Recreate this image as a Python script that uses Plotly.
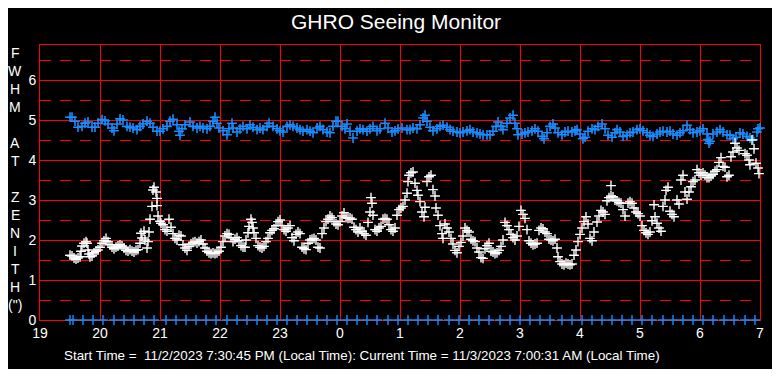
import plotly.graph_objects as go

# minutes after 19:00, FWHM value (arcsec) - white series
WHITE = [(30,1.62),(32,1.60),(34,1.55),(36,1.52),(38,1.55),(40,1.58),(41,1.72),(42,1.85),(44,1.92),(46,1.96),(47,1.92),(48,1.75),(49,1.65),(50,1.58),(52,1.60),(54,1.68),(56,1.72),(58,1.75),(60,1.82),(62,1.92),(64,1.98),(66,2.04),(68,1.96),(70,1.88),(72,1.82),(74,1.78),(76,1.82),(78,1.85),(80,1.88),(82,1.85),(84,1.80),(86,1.74),(88,1.72),(90,1.76),(92,1.72),(94,1.70),(96,1.74),(98,1.76),(100,1.92),(101,2.17),(102,2.05),(104,2.22),(105,2.00),(107,1.80),(108,1.96),(109,2.20),(110,2.52),(112,2.84),(113,3.25),(114,3.32),(116,3.20),(117,3.04),(117,2.86),(118,2.60),(120,2.47),(121,2.42),(123,2.38),(125,2.26),(127,2.22),(129,2.52),(131,2.32),(133,2.16),(135,2.04),(137,2.00),(139,2.12),(141,2.10),(143,1.88),(145,1.80),(147,1.74),(149,1.84),(151,1.90),(153,1.94),(155,1.96),(157,1.92),(159,1.96),(161,2.00),(163,1.90),(165,1.80),(167,1.72),(169,1.68),(171,1.66),(173,1.68),(175,1.66),(177,1.68),(179,1.72),(181,1.82),(183,1.96),(185,2.10),(187,2.16),(189,2.14),(191,2.06),(193,1.96),(195,2.02),(197,2.06),(199,1.98),(201,1.86),(203,1.82),(205,1.82),(206,2.00),(208,2.18),(209,2.34),(211,2.52),(212,2.44),(213,2.30),(214,2.18),(216,2.04),(218,1.86),(220,1.82),(222,1.80),(224,1.84),(226,1.96),(228,2.04),(230,2.18),(232,2.24),(234,2.28),(236,2.36),(238,2.46),(240,2.50),(242,2.36),(244,2.26),(246,2.22),(248,2.30),(250,2.36),(252,2.06),(254,1.98),(256,2.14),(258,2.20),(260,2.16),(262,1.82),(264,1.78),(266,1.76),(268,1.92),(270,2.00),(272,2.02),(274,2.04),(276,2.00),(278,1.82),(280,1.80),(282,2.16),(284,2.30),(286,2.46),(288,2.52),(290,2.60),(292,2.56),(294,2.46),(296,2.40),(298,2.38),(300,2.46),(302,2.60),(304,2.68),(306,2.56),(308,2.54),(310,2.55),(312,2.52),(314,2.32),(316,2.26),(318,2.20),(320,2.30),(322,2.22),(324,2.16),(326,2.12),(328,2.44),(330,2.70),(331,3.06),(332,2.92),(333,2.62),(335,2.26),(337,2.22),(339,2.30),(341,2.34),(343,2.52),(345,2.54),(347,2.52),(349,2.38),(351,2.26),(353,2.22),(355,2.30),(357,2.62),(359,2.76),(361,2.80),(363,2.84),(365,3.00),(367,3.17),(368,3.46),(369,3.62),(371,3.68),(373,3.70),(375,3.42),(377,3.24),(378,3.12),(380,2.96),(382,2.70),(384,2.58),(385,2.82),(387,3.46),(389,3.58),(391,3.62),(393,3.26),(395,3.10),(396,2.80),(398,2.62),(400,2.36),(402,2.16),(403,2.04),(405,2.40),(407,2.30),(409,2.20),(411,2.04),(413,1.90),(415,1.74),(417,1.68),(419,1.84),(421,1.94),(423,2.10),(425,2.30),(427,2.24),(429,2.20),(431,2.02),(433,1.98),(435,1.96),(437,1.80),(439,1.70),(441,1.56),(443,1.54),(445,1.78),(447,1.86),(449,1.92),(451,1.72),(453,1.70),(455,1.66),(457,1.68),(459,1.74),(461,1.84),(463,2.00),(465,2.44),(467,2.36),(469,2.26),(471,2.14),(473,2.06),(475,2.00),(477,2.10),(479,2.34),(481,2.74),(483,2.64),(485,2.54),(487,2.26),(489,1.98),(491,1.92),(493,1.88),(495,1.90),(497,1.92),(499,2.24),(501,2.30),(503,2.28),(505,2.20),(507,2.16),(509,2.02),(511,2.00),(513,1.98),(515,2.02),(517,1.80),(518,1.58),(520,1.46),(522,1.40),(524,1.38),(526,1.42),(528,1.40),(530,1.38),(532,1.40),(534,1.62),(536,1.75),(538,1.96),(540,2.14),(542,2.30),(544,2.46),(546,2.58),(548,2.40),(550,2.04),(552,1.98),(554,2.20),(557,2.45),(559,2.60),(561,2.74),(563,2.70),(565,2.64),(567,2.98),(569,3.06),(571,3.10),(571,3.36),(573,3.08),(575,3.00),(577,2.98),(579,2.94),(581,2.92),(583,2.76),(585,2.60),(588,2.92),(590,2.96),(592,2.92),(594,2.80),(596,2.70),(598,2.66),(600,2.60),(602,2.36),(604,2.24),(606,2.18),(608,2.14),(610,2.20),(612,2.48),(614,2.88),(615,2.58),(617,2.42),(619,2.30),(621,2.22),(623,2.84),(625,3.00),(626,3.24),(628,3.32),(630,2.72),(632,2.64),(634,2.58),(637,3.00),(639,2.90),(641,3.50),(643,3.62),(645,3.20),(647,3.02),(649,3.20),(651,3.33),(653,3.46),(655,3.50),(657,3.76),(659,3.68),(661,3.62),(663,3.68),(665,3.62),(667,3.56),(669,3.56),(671,3.60),(673,3.64),(675,3.72),(677,3.76),(679,3.94),(681,4.06),(683,3.84),(685,3.82),(687,3.58),(689,3.62),(691,4.08),(693,4.20),(695,4.42),(697,4.30),(699,4.24),(701,6.95),(705,4.16),(707,4.12),(709,4.00),(710,3.88),(712,4.50),(714,4.28),(716,3.92),(718,3.80),(719,3.66)]

# minutes after 19:00, value - blue series
BLUE = [(30,5.07),(32,5.07),(35,4.97),(38,4.82),(42,4.84),(45,4.92),(48,4.95),(52,4.82),(55,4.82),(58,4.92),(62,5.01),(65,4.98),(68,4.90),(72,4.80),(74,4.73),(77,4.90),(80,5.03),(83,5.00),(87,4.84),(90,4.82),(93,4.80),(97,4.76),(100,4.84),(103,4.90),(107,4.97),(110,4.92),(113,4.82),(117,4.72),(120,4.72),(123,4.78),(127,4.84),(130,4.97),(133,5.02),(137,4.88),(139,4.72),(140,4.62),(142,4.78),(145,4.88),(150,4.95),(153,4.84),(157,4.80),(160,4.84),(163,4.80),(167,4.78),(170,4.84),(173,4.97),(175,5.07),(177,4.92),(179,4.80),(183,4.73),(187,4.63),(189,4.78),(192,4.92),(193,4.80),(197,4.70),(200,4.78),(203,4.84),(207,4.78),(210,4.88),(213,4.82),(217,4.76),(220,4.80),(223,4.76),(227,4.84),(229,4.92),(233,4.84),(237,4.78),(240,4.73),(243,4.70),(247,4.84),(250,4.88),(253,4.84),(257,4.80),(260,4.76),(263,4.72),(267,4.76),(270,4.72),(273,4.68),(277,4.80),(280,4.84),(283,4.76),(287,4.70),(290,4.68),(293,4.84),(296,4.97),(298,4.97),(302,4.84),(305,4.78),(307,4.90),(310,4.72),(313,4.55),(317,4.72),(320,4.78),(323,4.76),(327,4.72),(330,4.78),(333,4.84),(337,4.73),(340,4.78),(345,4.92),(348,4.80),(352,4.70),(355,4.73),(358,4.78),(362,4.80),(367,4.76),(370,4.76),(373,4.80),(377,4.78),(380,4.88),(383,5.05),(385,5.12),(387,4.97),(390,4.82),(393,4.73),(397,4.78),(400,4.84),(403,4.87),(407,4.82),(410,4.76),(413,4.72),(417,4.70),(420,4.68),(423,4.70),(427,4.73),(430,4.76),(433,4.70),(437,4.68),(440,4.65),(443,4.63),(447,4.63),(450,4.63),(453,4.72),(456,4.84),(458,4.95),(461,4.84),(463,4.76),(467,4.92),(470,5.05),(473,5.12),(475,4.92),(477,4.78),(478,4.63),(482,4.65),(485,4.68),(488,4.70),(492,4.73),(495,4.78),(498,4.72),(502,4.59),(504,4.53),(507,4.68),(510,4.84),(513,4.90),(515,4.80),(518,4.68),(522,4.63),(525,4.70),(528,4.72),(532,4.70),(535,4.73),(537,4.76),(540,4.65),(543,4.53),(545,4.57),(548,4.72),(552,4.78),(555,4.76),(558,4.84),(562,4.90),(565,4.78),(568,4.62),(572,4.57),(575,4.68),(577,4.76),(580,4.70),(583,4.59),(587,4.62),(590,4.68),(593,4.70),(597,4.76),(600,4.78),(603,4.73),(607,4.68),(610,4.62),(613,4.59),(617,4.65),(620,4.70),(623,4.72),(627,4.70),(630,4.72),(633,4.65),(637,4.62),(640,4.68),(643,4.73),(647,4.87),(650,4.76),(653,4.68),(657,4.70),(660,4.73),(663,4.78),(667,4.65),(668,4.51),(669,4.42),(670,4.47),(673,4.65),(677,4.70),(680,4.76),(683,4.70),(687,4.63),(690,4.62),(693,4.53),(696,4.57),(700,4.68),(703,4.65),(707,4.59),(710,4.55),(713,4.51),(717,4.70),(718,4.78),(720,4.80)]

# baseline markers (value 0), minutes after 19:00
ZERO_MIN = [30,33,43,53,63,74,84,94,104,114,126,136,146,156,166,176,187,197,207,217,227,237,247,257,267,277,287,297,307,317,327,337,348,358,368,378,388,398,409,419,429,439,449,460,470,480,490,500,510,522,532,542,552,562,572,582,592,602,612,623,633,643,653,663,673,684,694,705,715]
ZERO_VAL = [0] * len(ZERO_MIN)

HOUR_LABELS = ['19','20','21','22','23','0','1','2','3','4','5','6','7']
Y_TICKS = [0, 1, 2, 3, 4, 5, 6]
YLABEL_LETTERS = ['F','W','H','M','','A','T','','Z','E','N','I','T','H','(")']
TITLE = 'GHRO Seeing Monitor'
FOOTER = 'Start Time =  11/2/2023 7:30:45 PM (Local Time): Current Time = 11/3/2023 7:00:31 AM (Local Time)'

FONT = 'Liberation Sans, Arial, sans-serif'
BLUE_C = '#1a8cff'

white_min, white_val = zip(*WHITE)
blue_min, blue_val = zip(*BLUE)

fig = go.Figure()
fig.add_trace(go.Scatter(x=blue_min, y=blue_val, mode='markers', cliponaxis=False,
                         marker=dict(symbol='cross-thin', size=7, line=dict(color=BLUE_C, width=1.6))))
fig.add_trace(go.Scatter(x=ZERO_MIN, y=ZERO_VAL, mode='markers', cliponaxis=False,
                         marker=dict(symbol='cross-thin', size=7, line=dict(color=BLUE_C, width=1.4))))
fig.add_trace(go.Scatter(x=white_min, y=white_val, mode='markers', cliponaxis=False,
                         marker=dict(symbol='cross-thin', size=7, line=dict(color='white', width=1.4))))

# page body has an 8px margin: lay the figure out in screen pixels minus that offset
OFF = 8
W, H = 780 - OFF, 377 - 2 * OFF
ml, mt = 40 - OFF, 45 - OFF
mr = W - (760 - OFF)
mb = H - (320 - OFF)
pw, ph = W - ml - mr, H - mt - mb

def px_x(px):
    return (px - OFF - ml) / pw

def px_y(py):
    return (H - mb - (py - OFF)) / ph

ann = []
ann.append(dict(text=TITLE, xref='paper', yref='paper', x=px_x(396), y=px_y(21.5),
                showarrow=False, xanchor='center', yanchor='middle',
                font=dict(family=FONT, size=21, color='white')))
for i, ch in enumerate(YLABEL_LETTERS):
    if ch:
        ann.append(dict(text=ch, xref='paper', yref='paper', x=px_x(15), y=px_y(53 + 18 * i),
                        showarrow=False, xanchor='center', yanchor='middle', borderpad=0,
                        font=dict(family=FONT, size=14, color='white')))
ann.append(dict(text='7', xref='paper', yref='y', x=px_x(36), y=7, showarrow=False,
                xanchor='right', yanchor='middle', font=dict(family=FONT, size=14, color='white')))
ann.append(dict(text=FOOTER.replace('  ', '&nbsp; '), xref='paper', yref='paper', x=px_x(62), y=px_y(355),
                showarrow=False, xanchor='left', yanchor='middle',
                font=dict(family=FONT, size=13.4, color='white')))

fig.update_layout(
    width=W, height=H, margin=dict(l=ml, r=mr, t=mt, b=mb, autoexpand=False),
    paper_bgcolor='black', plot_bgcolor='black', showlegend=False,
    annotations=ann,
    xaxis=dict(range=[0, 720], tickvals=[60 * i for i in range(len(HOUR_LABELS))], ticktext=HOUR_LABELS,
               showgrid=True, gridcolor='red', gridwidth=1, zeroline=False,
               showline=True, linecolor='red', linewidth=1, mirror=True, ticks='',
               tickfont=dict(family=FONT, size=14, color='white'), layer='below traces'),
    yaxis=dict(range=[0, 6.875], tickvals=Y_TICKS, ticktext=[str(v) for v in Y_TICKS],
               showgrid=True, gridcolor='red', gridwidth=1, zeroline=False,
               showline=True, linecolor='red', linewidth=1, mirror=True, ticks='',
               tickfont=dict(family=FONT, size=14, color='white'), layer='below traces',
               minor=dict(tickvals=[v + 0.5 for v in Y_TICKS], showgrid=True, gridcolor='red',
                          gridwidth=1, griddash='11px,9px', ticks='')),
)

fig.write_html('out.html')
